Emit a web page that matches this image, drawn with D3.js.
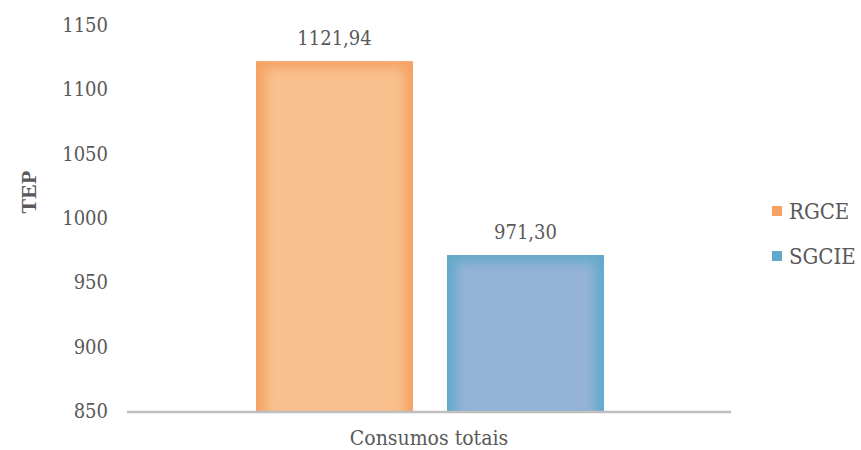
<!DOCTYPE html>
<html>
<head>
<meta charset="utf-8">
<script src="https://cdn.jsdelivr.net/npm/d3@7/dist/d3.min.js"></script>
<style>
  html, body { margin: 0; padding: 0; background: #fff; }
  svg { display: block; }
</style>
</head>
<body>
<svg id="chart" width="861" height="450"></svg>
<script>
// Energy consumption (TEP) per regulation scheme
const categories = ["Consumos totais"];
const seriesNames = ["RGCE", "SGCIE"];
const seriesValues = [1121.94, 971.30];
const yTicks = [850, 900, 950, 1000, 1050, 1100, 1150];
const edgeColors = ["#f5a263", "#62a9c9"];
const centerColors = ["#f9c18f", "#95b3d7"];

const FONT = "'DejaVu Serif Condensed', 'DejaVu Serif', serif";
const TITLE_FONT = "'Liberation Serif', 'Times New Roman', serif";
const INK = "#595959";

const svg = d3.select("#chart");

const y = d3.scaleLinear().domain([850, 1150]).range([411, 25]);
const x0 = d3.scaleBand().domain(categories).range([127, 731]);
const x1 = d3.scaleBand().domain(seriesNames)
  .range([129, 477]).paddingInner(0.178).paddingOuter(0);

const fmt = v => d3.format(".2f")(v).replace(".", ",");

function label(sel) {
  return sel.attr("font-family", FONT).attr("fill", INK);
}

// soft glow that lightens the middle of each bar
const defs = svg.append("defs");
defs.append("filter").attr("id", "soft")
  .attr("x", "-20%").attr("y", "-20%").attr("width", "140%").attr("height", "140%")
  .append("feGaussianBlur").attr("stdDeviation", 6);

// y tick labels
svg.append("g").selectAll("text").data(yTicks).join("text")
  .call(label)
  .attr("x", 108).attr("y", d => y(d))
  .attr("dy", "0.35em")
  .attr("text-anchor", "end")
  .attr("font-size", 20)
  .text(d => d);

// y axis title
svg.append("text")
  .attr("font-family", TITLE_FONT).attr("fill", INK)
  .attr("transform", "translate(28,192) rotate(-90)")
  .attr("text-anchor", "middle")
  .attr("dy", "0.35em")
  .attr("font-size", 22)
  .attr("font-weight", "bold")
  .text("TEP");

// bars
const gBars = svg.append("g");
seriesNames.forEach((name, i) => {
  const bx = x0(categories[0]) + x1(name);
  const bw = x1.bandwidth();
  const top = y(seriesValues[i]);
  const bh = y(850) - top;
  const clipId = "clip" + i;
  defs.append("clipPath").attr("id", clipId)
    .append("rect").attr("x", bx).attr("y", top).attr("width", bw).attr("height", bh);
  const g = gBars.append("g").attr("clip-path", `url(#${clipId})`);
  g.append("rect").attr("x", bx).attr("y", top).attr("width", bw).attr("height", bh)
    .attr("fill", edgeColors[i]);
  g.append("rect").attr("x", bx + 9).attr("y", top + 7)
    .attr("width", bw - 18).attr("height", bh)
    .attr("fill", centerColors[i]).attr("filter", "url(#soft)");
  // value label
  svg.append("text")
    .call(label)
    .attr("x", bx + bw / 2).attr("y", top - 23)
    .attr("dy", "0.35em")
    .attr("text-anchor", "middle")
    .attr("font-size", 20)
    .text(fmt(seriesValues[i]));
});

// category axis
svg.append("line")
  .attr("x1", x0.range()[0]).attr("x2", x0.range()[1])
  .attr("y1", y(850) + 1).attr("y2", y(850) + 1)
  .attr("stroke", "#bfbfbf").attr("stroke-width", 2.5);

svg.append("text")
  .call(label)
  .attr("x", x0(categories[0]) + x0.bandwidth() / 2).attr("y", 438)
  .attr("dy", "0.35em")
  .attr("text-anchor", "middle")
  .attr("font-size", 21)
  .text(categories[0]);

// legend
const legend = svg.append("g");
seriesNames.forEach((name, i) => {
  const ly = 211 + i * 45;
  legend.append("rect").attr("x", 772).attr("y", ly - 5).attr("width", 10).attr("height", 10)
    .attr("fill", edgeColors[i]);
  legend.append("text").call(label)
    .attr("x", 789).attr("y", ly)
    .attr("dy", "0.35em").attr("font-size", 22).text(name);
});
</script>
</body>
</html>
